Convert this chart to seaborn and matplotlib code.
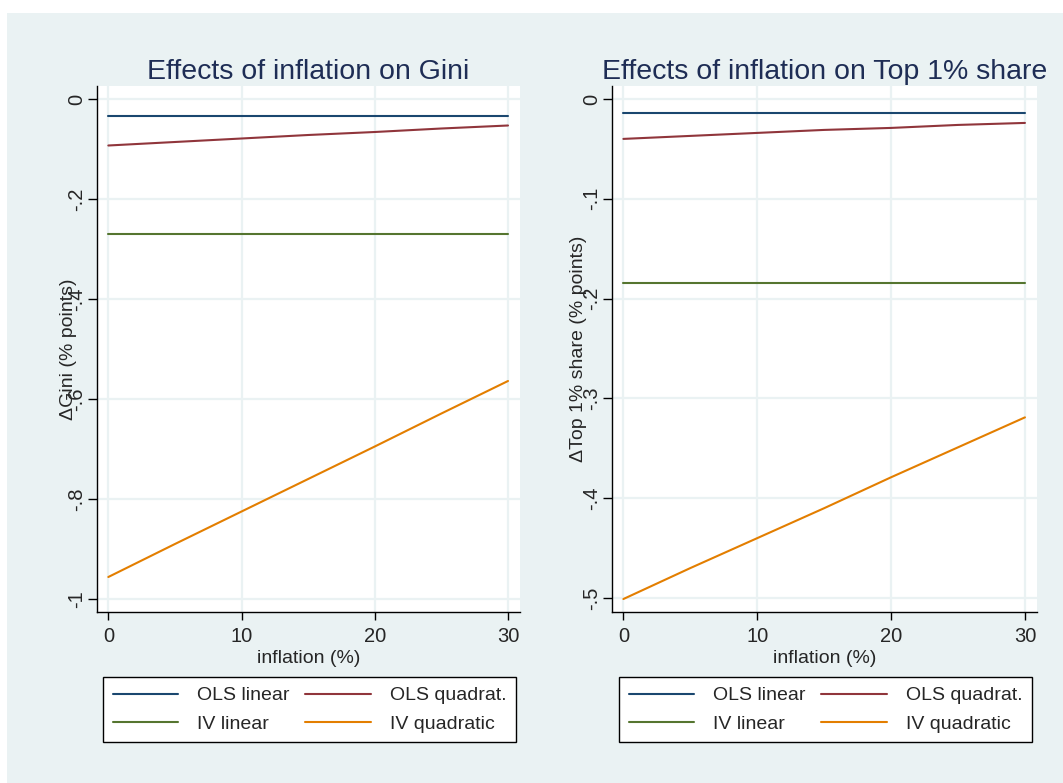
import matplotlib
matplotlib.use('Agg')
import matplotlib.pyplot as plt
import seaborn as sns
import pandas as pd

# Dữ liệu
inflation = [0, 5, 10, 15, 20, 25, 30]
models = ['OLS linear', 'OLS quadrat.', 'IV linear', 'IV quadratic']

gini_ols_lin = [-0.033, -0.033, -0.033, -0.033, -0.033, -0.033, -0.033]
gini_ols_quad = [-0.093, -0.086, -0.079, -0.072, -0.066, -0.059, -0.053]
gini_iv_lin = [-0.270, -0.270, -0.270, -0.270, -0.270, -0.270, -0.270]
gini_iv_quad = [-0.956, -0.890, -0.825, -0.760, -0.695, -0.629, -0.564]

top_ols_lin = [-0.0145, -0.0145, -0.0145, -0.0145, -0.0145, -0.0145, -0.0145]
top_ols_quad = [-0.040, -0.037, -0.034, -0.031, -0.029, -0.026, -0.024]
top_iv_lin = [-0.184, -0.184, -0.184, -0.184, -0.184, -0.184, -0.184]
top_iv_quad = [-0.501, -0.470, -0.440, -0.410, -0.379, -0.349, -0.319]

gini_ticks = [0, -0.2, -0.4, -0.6, -0.8, -1]
gini_ticklabels = ['0', '-.2', '-.4', '-.6', '-.8', '-1']
top_ticks = [0, -0.1, -0.2, -0.3, -0.4, -0.5]
top_ticklabels = ['0', '-.1', '-.2', '-.3', '-.4', '-.5']
x_ticks = [0, 10, 20, 30]

colors = {'OLS linear': '#1A476F', 'OLS quadrat.': '#90353B',
          'IV linear': '#55752F', 'IV quadratic': '#E37E00'}


def make_df(series):
    rows = []
    for name, vals in zip(models, series):
        for x, y in zip(inflation, vals):
            rows.append({'inflation': x, 'effect': y, 'model': name})
    return pd.DataFrame(rows)


gini_df = make_df([gini_ols_lin, gini_ols_quad, gini_iv_lin, gini_iv_quad])
top_df = make_df([top_ols_lin, top_ols_quad, top_iv_lin, top_iv_quad])

sns.set_style('white')
plt.rcParams['font.family'] = ['Liberation Sans', 'DejaVu Sans']

bg = '#EAF2F3'
W, H = 1063, 783
fig = plt.figure(figsize=(W / 100, H / 100), dpi=100)
fig.patch.set_facecolor('white')
# nền xám nhạt kiểu Stata
fig.patches.append(plt.Rectangle((7 / W, 0), 1, 1 - 13 / H, transform=fig.transFigure,
                                 facecolor=bg, edgecolor='none', zorder=-10))

panels = [
    (gini_df, [97, 86, 520, 612], 'Effects of inflation on Gini', '\u0394Gini (% points)',
     gini_ticks, gini_ticklabels, (-1.026, 0.026), 103, -0.047),
    (top_df, [612, 86, 1037, 612], 'Effects of inflation on Top 1% share',
     '\u0394Top 1% share (% points)', top_ticks, top_ticklabels, (-0.514, 0.013), 619, -0.059),
]

for df, (l, t, r, b), title, ylabel, yt, ytl, ylim, leg_x, lab_x in panels:
    ax = fig.add_axes([l / W, 1 - b / H, (r - l) / W, (b - t) / H])
    sns.lineplot(data=df, x='inflation', y='effect', hue='model', hue_order=models,
                 palette=colors, linewidth=1.5, legend=False, ax=ax)
    ax.set_facecolor('white')
    ax.set_xlim(-0.85, 30.9)
    ax.set_ylim(*ylim)
    ax.set_xticks(x_ticks)
    ax.set_xticklabels([str(v) for v in x_ticks], fontsize=14.5)
    ax.set_yticks(yt)
    ax.set_yticklabels(ytl, fontsize=14.5, rotation=90, va='center')
    ax.grid(True, color=bg, linewidth=1.6)
    ax.set_axisbelow(True)
    for s in ['top', 'right']:
        ax.spines[s].set_visible(False)
    for s in ['left', 'bottom']:
        ax.spines[s].set_color('black')
        ax.spines[s].set_linewidth(1.0)
    ax.tick_params(axis='x', length=5.5, width=1, color='black', direction='out',
                   bottom=True, pad=5)
    ax.tick_params(axis='y', length=6.5, width=1, color='black', direction='out',
                   left=True, pad=1.5)
    ax.set_title(title, fontsize=20.5, color='#1E2D55', pad=5)
    ax.set_xlabel('inflation (%)', fontsize=14, labelpad=3)
    ax.set_ylabel(ylabel, fontsize=14)
    ax.yaxis.set_label_coords(lab_x, 0.5)

    handles = [ax.lines[0], ax.lines[2], ax.lines[1], ax.lines[3]]
    labels = ['OLS linear', 'IV linear', 'OLS quadrat.', 'IV quadratic']
    leg = ax.legend(handles, labels, ncol=2, loc='upper left',
                    bbox_to_anchor=(leg_x / W, 1 - 677 / H), bbox_transform=fig.transFigure,
                    fontsize=14, frameon=True, fancybox=False, framealpha=1,
                    edgecolor='black', borderaxespad=0, borderpad=0.5,
                    handlelength=3.35, handletextpad=1.0, columnspacing=0.8,
                    labelspacing=0.55)
    leg.get_frame().set_linewidth(1.0)

fig.savefig('out.png', dpi=100, facecolor=fig.get_facecolor())
